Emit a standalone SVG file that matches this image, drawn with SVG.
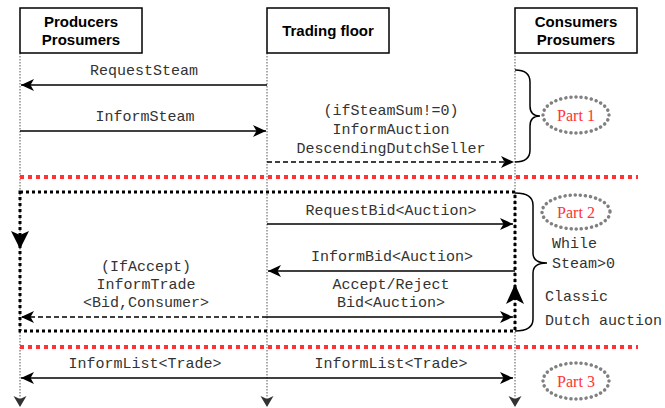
<svg xmlns="http://www.w3.org/2000/svg" width="665" height="408" viewBox="0 0 665 408">
<style>
.box{fill:#fff;stroke:#000;stroke-width:1.5}
.hd{font-family:"Liberation Sans",Arial,sans-serif;font-weight:bold;font-size:15px;text-anchor:middle;fill:#000}
.lbl{font-family:"Liberation Mono","Courier New",monospace;font-size:15px;fill:#333;text-anchor:middle}
.side{font-family:"Liberation Mono","Courier New",monospace;font-size:15px;fill:#333}
.life{stroke:#555;stroke-width:1;stroke-dasharray:1.5 1.5;fill:none}
.msg{stroke:#000;stroke-width:1.5;fill:none}
.dash{stroke-dasharray:5 3}
.red{stroke:#FF3333;stroke-width:4;stroke-dasharray:4 4;fill:none}
.loop{stroke:#000;stroke-width:3;stroke-dasharray:3 3;fill:none}
.brace{stroke:#000;stroke-width:1.5;fill:none}
.ell{fill:none;stroke:#808080;stroke-width:3.5;stroke-dasharray:0.1 5;stroke-linecap:round}
.part{font-family:"Liberation Serif","Times New Roman",serif;font-size:16px;fill:#FF3333;text-anchor:middle}
</style>
<defs>
<marker id="ah" markerUnits="userSpaceOnUse" markerWidth="16" markerHeight="14" refX="13" refY="6" orient="auto-start-reverse">
<path d="M0,0 L13,6 L0,12 L3.5,6 z" fill="#000"/>
</marker>
<marker id="lh" markerUnits="userSpaceOnUse" markerWidth="14" markerHeight="14" refX="11" refY="6.5" orient="auto">
<path d="M0,0 L11,6.5 L0,13 L3,6.5 z" fill="#333"/>
</marker>
</defs>

<g id="connectors">
<line class="life" x1="20" y1="53" x2="20" y2="407" marker-end="url(#lh)"/>
<line class="life" x1="267" y1="53" x2="267" y2="407" marker-end="url(#lh)"/>
<line class="life" x1="515" y1="53" x2="515" y2="407" marker-end="url(#lh)"/>

<line class="msg" x1="267" y1="85" x2="21" y2="85" marker-end="url(#ah)"/>
<line class="msg" x1="20" y1="131" x2="266" y2="131" marker-end="url(#ah)"/>
<line class="msg dash" x1="267" y1="162" x2="514" y2="162" marker-end="url(#ah)"/>

<line class="red" x1="20" y1="177" x2="638" y2="177"/>

<path class="loop" d="M20,192 L515,192 L515,331 L20,331 Z"/>
<path d="M20,249 L11,231 L20,235 L29,231 Z" fill="#000"/>
<path d="M515,284 L506,304 L515,299 L524,304 Z" fill="#000"/>

<line class="msg" x1="267" y1="224" x2="513" y2="224" marker-end="url(#ah)"/>
<line class="msg" x1="515" y1="271" x2="268" y2="271" marker-end="url(#ah)"/>
<line class="msg dash" x1="267" y1="317" x2="21" y2="317" marker-end="url(#ah)"/>
<line class="msg" x1="267" y1="317" x2="513" y2="317" marker-end="url(#ah)"/>

<line class="red" x1="20" y1="347" x2="638" y2="347"/>

<line class="msg" x1="21" y1="378" x2="513" y2="378" marker-start="url(#ah)" marker-end="url(#ah)"/>
</g>

<g id="labels">
<text class="lbl" x="144" y="75">RequestSteam</text>
<text class="lbl" x="145" y="121">InformSteam</text>
<text class="lbl" x="391" y="115">(ifSteamSum!=0)</text>
<text class="lbl" x="391" y="134">InformAuction</text>
<text class="lbl" x="391" y="153">DescendingDutchSeller</text>
<text class="lbl" x="391" y="215">RequestBid&lt;Auction&gt;</text>
<text class="lbl" x="392" y="261">InformBid&lt;Auction&gt;</text>
<text class="lbl" x="146" y="271">(IfAccept)</text>
<text class="lbl" x="146" y="289">InformTrade</text>
<text class="lbl" x="146" y="307">&lt;Bid,Consumer&gt;</text>
<text class="lbl" x="391" y="289">Accept/Reject</text>
<text class="lbl" x="391" y="307">Bid&lt;Auction&gt;</text>
<text class="lbl" x="145" y="368">InformList&lt;Trade&gt;</text>
<text class="lbl" x="391" y="368">InformList&lt;Trade&gt;</text>
</g>

<g id="producers">
<rect class="box" x="20" y="8" width="122" height="45"/>
<text class="hd" x="81" y="27">Producers</text>
<text class="hd" x="81" y="45">Prosumers</text>
</g>
<g id="trading-floor">
<rect class="box" x="267" y="8" width="122" height="45"/>
<text class="hd" x="328" y="36">Trading floor</text>
</g>
<g id="consumers">
<rect class="box" x="515" y="8" width="122" height="45"/>
<text class="hd" x="576" y="27">Consumers</text>
<text class="hd" x="576" y="45">Prosumers</text>
</g>

<g id="part1">
<path class="brace" d="M515,70 Q530,70 530,82 L530,106 Q530,116 540,116 Q530,116 530,126 L530,150 Q530,162 515,162"/>
<ellipse class="ell" cx="576" cy="115" rx="33" ry="18"/>
<text class="part" x="576" y="121">Part 1</text>
</g>
<g id="part2">
<path class="brace" d="M515,193 Q533,193 533,205 L533,253 Q533,263 547,263 Q533,263 533,273 L533,319 Q533,331 515,331"/>
<ellipse class="ell" cx="576" cy="212" rx="34" ry="17"/>
<text class="part" x="576" y="218">Part 2</text>
<text class="side" x="552" y="248">While</text>
<text class="side" x="552" y="268">Steam&gt;0</text>
<text class="side" x="545" y="301">Classic</text>
<text class="side" x="545" y="325">Dutch auction</text>
</g>
<g id="part3">
<ellipse class="ell" cx="576" cy="381" rx="33" ry="18"/>
<text class="part" x="576" y="387">Part 3</text>
</g>
</svg>
